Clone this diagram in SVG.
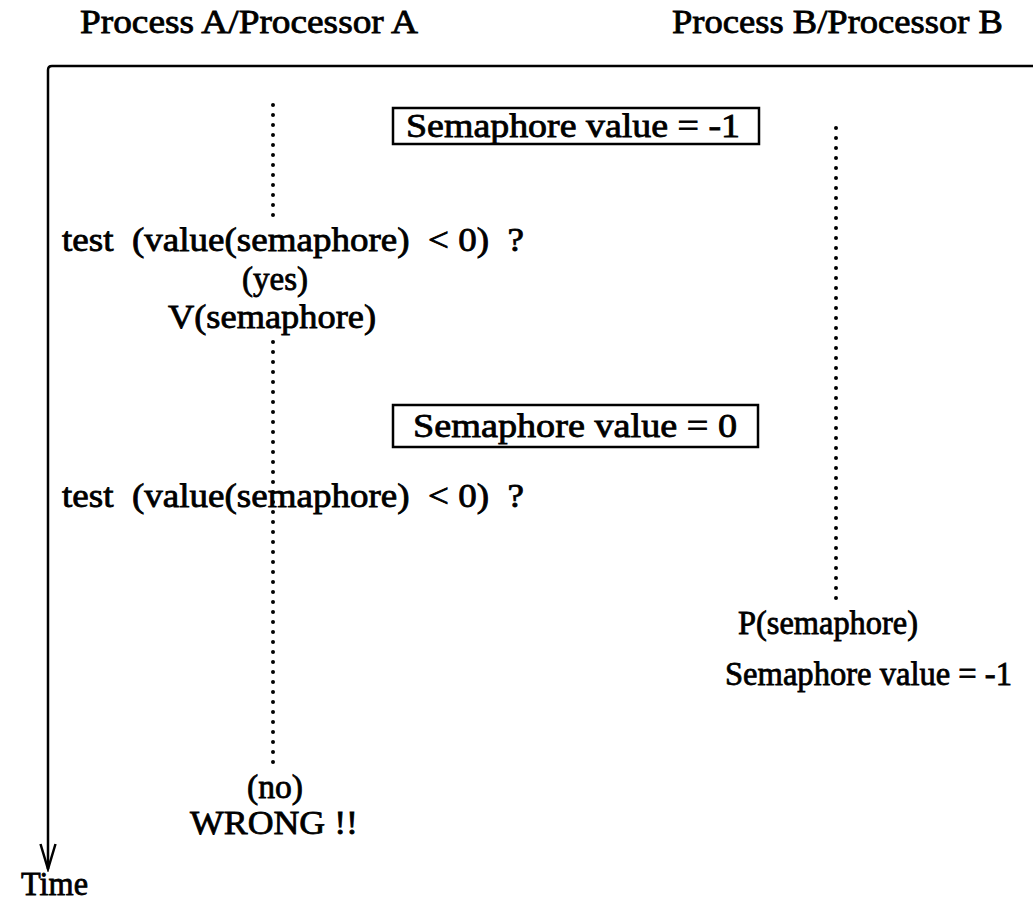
<svg xmlns="http://www.w3.org/2000/svg" width="1033" height="901" viewBox="0 0 1033 901">
<style>
text{font-family:"Liberation Serif","Times New Roman",serif;font-size:34px;fill:#000;stroke:#000;stroke-width:0.8}
.dot{fill:none;stroke:#000;stroke-width:4;stroke-linecap:round;stroke-dasharray:0 10}
.frame{fill:none;stroke:#000;stroke-width:2.5}
.box{fill:#fff;stroke:#000;stroke-width:2.5}
</style>
<defs>
<marker id="arr" markerWidth="30" markerHeight="18" refX="27" refY="9" orient="auto" markerUnits="userSpaceOnUse" viewBox="0 0 30 18">
<path d="M2,1.5 L27,9 L2,16.5" fill="none" stroke="#000" stroke-width="2.5"/>
</marker>
</defs>
<g id="connectors">
<path class="frame" d="M1033,66 L52,66 Q48,66 48,70 L48,869" marker-end="url(#arr)"/>
<line class="dot" x1="273" y1="105" x2="273" y2="225"/>
<line class="dot" x1="273" y1="342" x2="273" y2="768"/>
<line class="dot" x1="836" y1="128" x2="836" y2="606"/>
</g>
<g id="headerA"><text x="80" y="33" textLength="338" lengthAdjust="spacingAndGlyphs">Process A/Processor A</text></g>
<g id="headerB"><text x="672" y="33" textLength="331" lengthAdjust="spacingAndGlyphs">Process B/Processor B</text></g>
<g id="box1">
<rect class="box" x="393" y="108" width="366" height="36"/>
<text x="406" y="137" textLength="334" lengthAdjust="spacingAndGlyphs">Semaphore value = -1</text>
</g>
<g id="test1"><text x="62" y="251" textLength="462" lengthAdjust="spacingAndGlyphs" xml:space="preserve">test  (value(semaphore)  &lt; 0)  ?</text></g>
<g id="yes"><text x="242" y="290" textLength="66" lengthAdjust="spacingAndGlyphs">(yes)</text></g>
<g id="V"><text x="168" y="328" textLength="208" lengthAdjust="spacingAndGlyphs">V(semaphore)</text></g>
<g id="box2">
<rect class="box" x="393" y="405" width="365" height="42"/>
<text x="413" y="437" textLength="324" lengthAdjust="spacingAndGlyphs">Semaphore value = 0</text>
</g>
<g id="test2"><text x="62" y="507" textLength="462" lengthAdjust="spacingAndGlyphs" xml:space="preserve">test  (value(semaphore)  &lt; 0)  ?</text></g>
<g id="P"><text x="738" y="634" textLength="180" lengthAdjust="spacingAndGlyphs">P(semaphore)</text></g>
<g id="valB"><text x="725" y="685" textLength="287" lengthAdjust="spacingAndGlyphs">Semaphore value = -1</text></g>
<g id="no"><text x="247" y="798" textLength="56" lengthAdjust="spacingAndGlyphs">(no)</text></g>
<g id="wrong"><text x="190" y="834" textLength="168" lengthAdjust="spacingAndGlyphs">WRONG !!</text></g>
<g id="time"><text x="21" y="895" textLength="67" lengthAdjust="spacingAndGlyphs">Time</text></g>
</svg>
